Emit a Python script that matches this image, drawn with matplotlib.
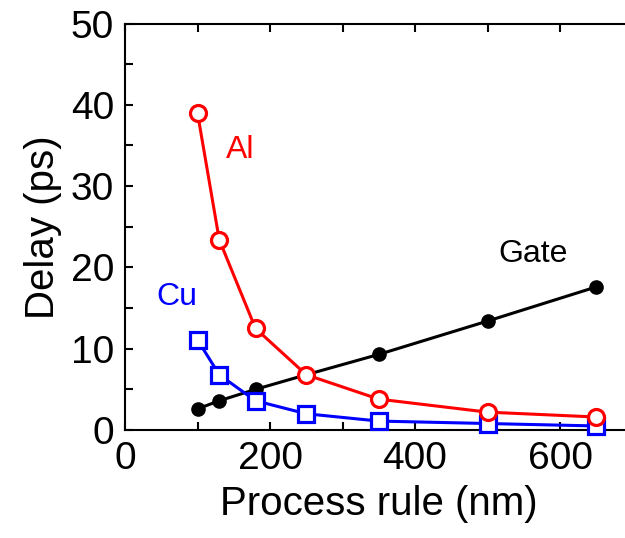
import numpy as np
import matplotlib.pyplot as plt
from matplotlib.ticker import MultipleLocator

plt.rcParams['font.family'] = ['Liberation Sans', 'DejaVu Sans']

# process rule (nm) and delay (ps)
rule = [100, 130, 180, 250, 350, 500, 650]
gate = [2.6, 3.6, 5.0, 6.8, 9.3, 13.4, 17.6]
al = [39.0, 23.4, 12.5, 6.8, 3.8, 2.2, 1.6]
cu = [11.1, 6.8, 3.6, 2.0, 1.1, 0.8, 0.5]

fig = plt.figure(figsize=(6.25, 5.38), dpi=100)
ax = fig.add_axes([0.2, 0.2007, 0.812, 0.7556])

ax.plot(rule, gate, '-o', color='black', lw=2.2, ms=9.5, zorder=2,
        clip_on=False)
ax.plot(rule, cu, '-s', color='blue', lw=2.2, ms=11.5, mew=2.3,
        mfc='white', zorder=3, clip_on=False)
ax.plot(rule, al, '-o', color='red', lw=2.2, ms=11.5, mew=2.3,
        mfc='white', zorder=4, clip_on=False)

ax.text(159, 34.4, 'Al', color='red', fontsize=23, ha='center', va='center')
ax.text(72, 16.4, 'Cu', color='blue', fontsize=23, ha='center', va='center')
ax.text(563, 21.6, 'Gate', color='black', fontsize=23, ha='center', va='center')

ax.set_xlim(0, 700)
ax.set_ylim(0, 50)
ax.xaxis.set_major_locator(MultipleLocator(200))
ax.xaxis.set_minor_locator(MultipleLocator(100))
ax.yaxis.set_major_locator(MultipleLocator(10))
ax.yaxis.set_minor_locator(MultipleLocator(5))
ax.tick_params(which='both', direction='in', top=True, right=True,
               labelsize=28, width=1.5)
ax.tick_params(which='major', length=6, pad=8)
ax.tick_params(which='minor', length=6)
for s in ax.spines.values():
    s.set_linewidth(1.5)

ax.set_xlabel('Process rule (nm)', fontsize=29, labelpad=6)
ax.set_ylabel('Delay (ps)', fontsize=29, labelpad=6)

fig.savefig('out.png', dpi=100)
